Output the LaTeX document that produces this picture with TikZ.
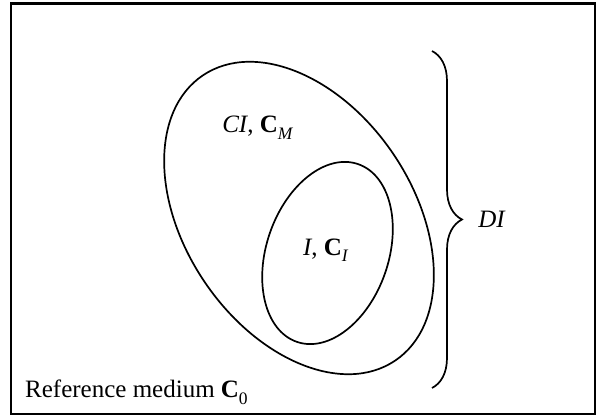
\documentclass[tikz,border=0pt]{standalone}
\usepackage{fontspec}
\setmainfont{Liberation Serif}
\usetikzlibrary{decorations.pathreplacing, positioning}

\newcommand{\lowsub}[1]{\textsubscript{\raisebox{-0.35ex}{#1}}}

\begin{document}
\begin{tikzpicture}[
    x=1pt, y=1pt,
    region/.style={draw=black, line width=1.7pt},
    lbl/.style={inner sep=0pt, font=\fontsize{25}{28}\selectfont},
    curly/.style={decorate, decoration={brace, amplitude=30pt}, line width=1.7pt}
]
    \useasboundingbox (0, 0) rectangle (597, 417);
    \draw[line width=2.2pt] (11, 3) rectangle (595, 413.5);

    % inclusions
    \draw[region, rotate around={34:(299, 199)}] (299, 199) ellipse (114 and 172);
    \draw[region, rotate around={-19:(327.5, 164)}] (327.5, 164) ellipse (61 and 94);

    \node[lbl] (CM) at (258, 289) {\textit{CI}, \textbf{C}\lowsub{\textit{M}}};
    \node[lbl] (CI) at (326, 167) {\textit{I}, \textbf{C}\lowsub{\textit{I}}};
    \node[lbl, anchor=base west] (C0) at (25, 19) {Reference medium \textbf{C}\lowsub{0}};

    % brace
    \coordinate (btop) at (432, 366);
    \coordinate (bbot) at (432, 29);
    \draw[curly] (btop) -- (bbot);
    \node[lbl] (DI) at (492, 198) {\textit{DI}};
\end{tikzpicture}
\end{document}
